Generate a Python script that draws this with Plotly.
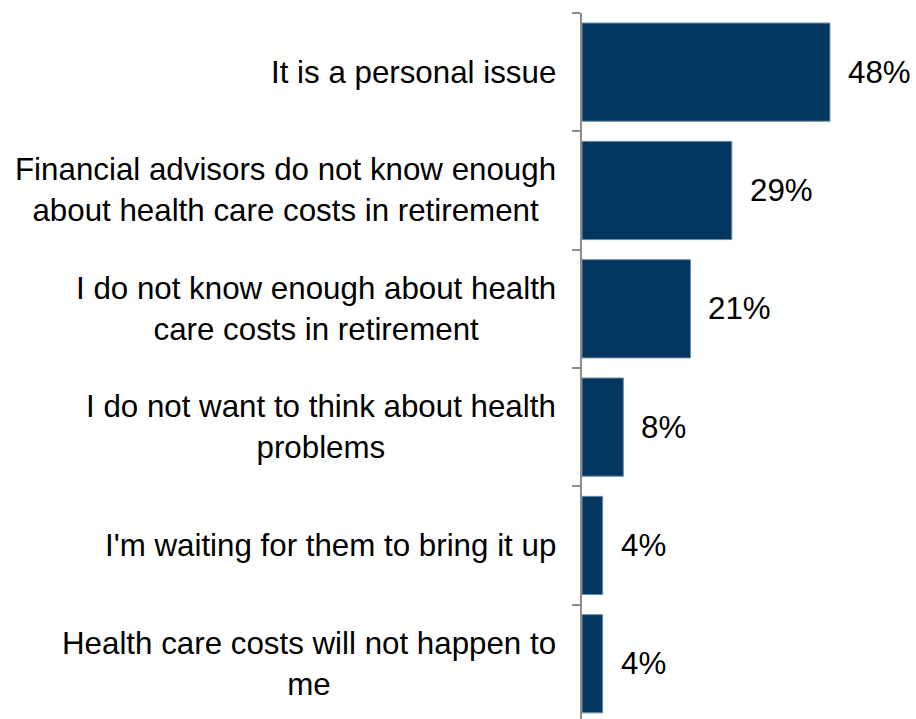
import plotly.graph_objects as go

# Survey reasons, top to bottom, with share of respondents (%)
reasons = [
    "It is a personal issue",
    "Financial advisors do not know enough<br>about health care costs in retirement",
    "I do not know enough about health<br>care costs in retirement",
    "I do not want to think about health<br>problems",
    "I'm waiting for them to bring it up",
    "Health care costs will not happen to<br>me",
]
shares = [48, 29, 21, 8, 4, 4]
value_labels = [f"{v}%" for v in shares]

BAR_COLOR = "#03375F"
BAR_EDGE = "#6E8CA6"
AXIS_GRAY = "#8C8C8C"
FONT = "Liberation Sans, Arial, sans-serif"
TEXT_SIZE = 31.3

fig = go.Figure(
    go.Bar(
        x=shares,
        y=reasons,
        orientation="h",
        width=0.83,
        marker=dict(color=BAR_COLOR, line=dict(color=BAR_EDGE, width=1)),
        hoverinfo="skip",
    )
)

annotations = []
# category labels, right-aligned block with centred lines
for r in reasons:
    annotations.append(dict(
        x=0, xref="paper", y=r, yref="y",
        text=r, showarrow=False,
        xanchor="right", yanchor="middle", align="center",
        xshift=-24,
        font=dict(family=FONT, size=TEXT_SIZE, color="#000000"),
    ))
# value labels just beyond the bar ends
for r, v, t in zip(reasons, shares, value_labels):
    annotations.append(dict(
        x=v, xref="x", y=r, yref="y",
        text=t, showarrow=False,
        xanchor="left", yanchor="middle",
        xshift=16,
        font=dict(family=FONT, size=TEXT_SIZE, color="#000000"),
    ))

fig.update_layout(
    width=916,
    height=719,
    margin=dict(l=582, r=0, t=13, b=0),
    paper_bgcolor="white",
    plot_bgcolor="white",
    showlegend=False,
    font=dict(family=FONT, size=TEXT_SIZE, color="#000000"),
    annotations=annotations,
    xaxis=dict(
        range=[0, 64.66],
        visible=False,
        showgrid=False,
        zeroline=False,
    ),
    yaxis=dict(
        type="category",
        categoryorder="array",
        categoryarray=reasons,
        range=[5.467, -0.5],
        showticklabels=False,
        tickson="boundaries",
        ticks="outside",
        ticklen=8,
        tickwidth=2,
        tickcolor=AXIS_GRAY,
        showline=True,
        linecolor=AXIS_GRAY,
        linewidth=2,
        showgrid=False,
        zeroline=False,
    ),
)

fig.write_html("out.html")
